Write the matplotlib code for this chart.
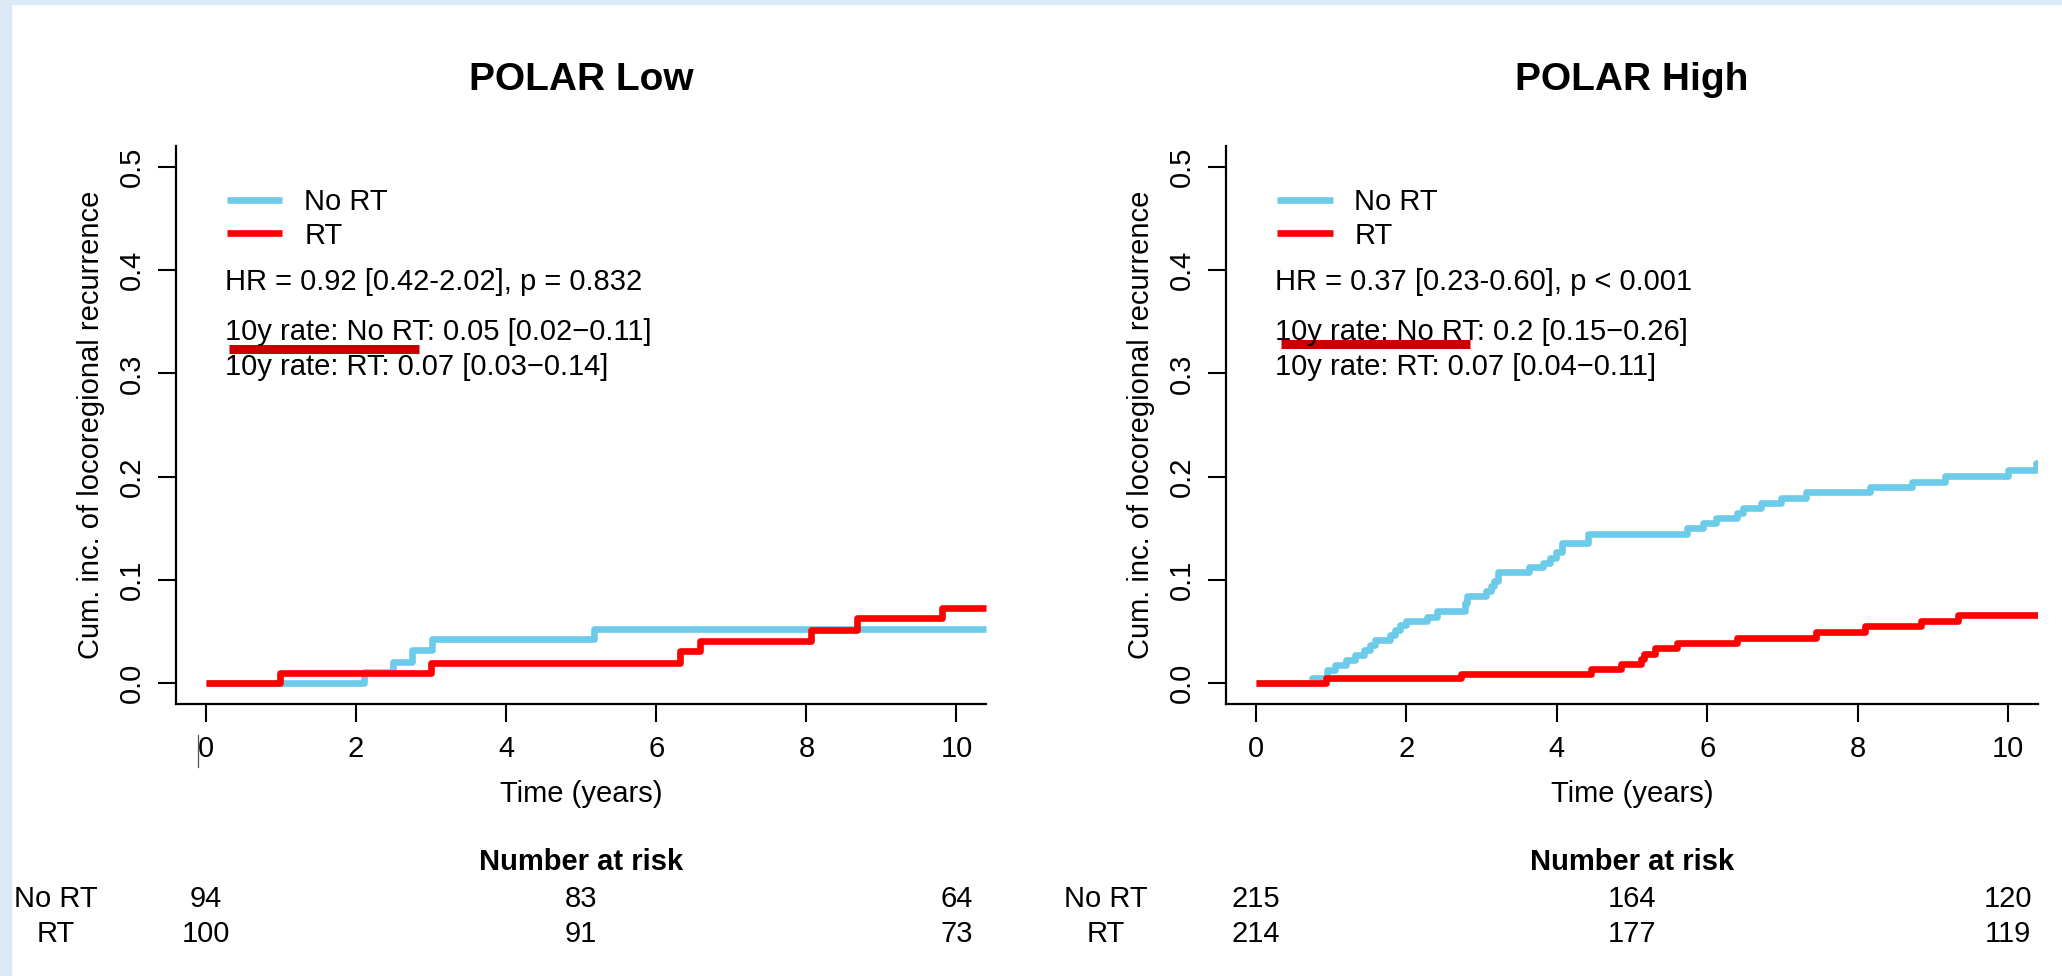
#!/usr/bin/env python

import numpy as np
import matplotlib

matplotlib.use("Agg")
import matplotlib.pyplot as plt
from matplotlib.lines import Line2D
from matplotlib.patches import Rectangle

# --- data -----------------------------------------------------------------

# POLAR Low: step times (years) and cumulative incidence after each step
low_no_rt_t = [0.0, 2.10, 2.49, 2.75, 3.01, 5.17]
low_no_rt_y = [0.0, 0.0106, 0.021, 0.032, 0.043, 0.053]
low_rt_t = [0.0, 0.98, 3.00, 6.32, 6.58, 8.06, 8.67, 9.81]
low_rt_y = [0.0, 0.010, 0.020, 0.031, 0.041, 0.052, 0.063, 0.073]

# POLAR High
high_no_rt_t = [
    0.0, 0.75, 0.94, 1.05, 1.20, 1.32, 1.43, 1.52, 1.58, 1.78, 1.85, 1.91,
    2.00, 2.27, 2.40, 2.78, 2.80, 3.06, 3.12, 3.17, 3.22, 3.63, 3.82, 3.91,
    3.99, 4.07, 4.41, 5.73, 5.95, 6.12, 6.39, 6.47, 6.72, 6.98, 7.32, 8.16,
    8.73, 9.16, 10.00, 10.38,
]
high_no_rt_y = [
    0.0, 0.0047, 0.013, 0.0177, 0.0226, 0.0274, 0.0322, 0.037, 0.042, 0.047,
    0.0516, 0.056, 0.060, 0.0645, 0.070, 0.078, 0.0845, 0.089, 0.094, 0.099,
    0.108, 0.1123, 0.1168, 0.1216, 0.1274, 0.1355, 0.145, 0.1506, 0.1555,
    0.1603, 0.1652, 0.170, 0.1748, 0.1797, 0.1849, 0.1897, 0.1952, 0.2007,
    0.2065, 0.213,
]
high_rt_t = [0.0, 0.93, 2.73, 4.46, 4.86, 5.12, 5.16, 5.31, 5.60, 6.40, 7.45,
             8.10, 8.85, 9.33]
high_rt_y = [0.0, 0.0047, 0.0093, 0.014, 0.019, 0.0235, 0.028, 0.034, 0.039,
             0.044, 0.0495, 0.055, 0.060, 0.066]

follow_up_end = 10.4

titles = ["POLAR Low", "POLAR High"]
hr_texts = [
    "HR = 0.92 [0.42-2.02], p = 0.832",
    "HR = 0.37 [0.23-0.60], p < 0.001",
]
rate_no_rt = [
    "10y rate: No RT: 0.05 [0.02\u22120.11]",
    "10y rate: No RT: 0.2 [0.15\u22120.26]",
]
rate_rt = [
    "10y rate: RT: 0.07 [0.03\u22120.14]",
    "10y rate: RT: 0.07 [0.04\u22120.11]",
]

groups = ["No RT", "RT"]
risk_times = [0, 5, 10]
risk_no_rt = [[94, 83, 64], [215, 164, 120]]
risk_rt = [[100, 91, 73], [214, 177, 119]]

# highlighted span under "10y rate: No RT" (years, cum. inc.)
underline_x = [[0.31, 2.84], [0.33, 2.85]]
underline_y = [0.324, 0.3285]

# --- style ----------------------------------------------------------------

W, H, DPI = 2062, 976, 100
BLUE = "#6dcbea"
RED = "#ff0000"
MARK_RED = "#c80000"
FS = 21

plt.rcParams["font.family"] = ["Liberation Sans", "DejaVu Sans"]


def px_rect(x0, y_top, x1, y_bottom):
    """Figure pixel box (origin top-left) -> axes rect in figure fractions."""
    return [x0 / W, 1 - y_bottom / H, (x1 - x0) / W, (y_bottom - y_top) / H]


def steps(t, y):
    t = np.append(np.asarray(t, dtype=float), follow_up_end)
    y = np.append(np.asarray(y, dtype=float), y[-1])
    return t, y


def draw_panel(ax, i, curves):
    for (t, y), color, label in zip(curves, [BLUE, RED], groups):
        st, sy = steps(t, y)
        ax.step(st, sy, where="post", color=color, lw=4.8, label=label,
                solid_capstyle="butt")

    ax.set_xlim(-0.4, 10.4)
    ax.set_ylim(-0.02, 0.52)
    ax.set_xticks(np.arange(0, 11, 2))
    yt = np.arange(0, 0.51, 0.1)
    ax.set_yticks(yt)
    ax.set_yticklabels([f"{v:.1f}" for v in yt], rotation=90, va="center")
    for side in ("top", "right"):
        ax.spines[side].set_visible(False)
    for side in ("left", "bottom"):
        ax.spines[side].set_linewidth(1.6)
    ax.tick_params(axis="both", length=13, width=1.5, labelsize=FS)
    ax.tick_params(axis="x", pad=9)
    ax.tick_params(axis="y", pad=9)

    ax.set_title(titles[i], fontsize=28, fontweight="bold", pad=40)
    ax.set_xlabel("Time (years)", fontsize=FS)
    ax.xaxis.set_label_coords(0.5, -0.137)
    ax.set_ylabel("Cum. inc. of locoregional recurrence", fontsize=FS)
    ax.yaxis.set_label_coords(-0.088, 0.5)

    ax.legend(loc="upper left", bbox_to_anchor=(0.063, 0.925), frameon=False,
              fontsize=FS, handlelength=1.9, handletextpad=0.75,
              labelspacing=0.2, borderpad=0, borderaxespad=0)

    ax.text(0.25, 0.388, hr_texts[i], fontsize=FS, va="center")
    ax.text(0.25, 0.340, rate_no_rt[i], fontsize=FS, va="center")
    ax.text(0.25, 0.3065, rate_rt[i], fontsize=FS, va="center")
    ax.plot(underline_x[i], [underline_y[i]] * 2, color=MARK_RED, lw=6.5,
            solid_capstyle="butt")

    # number at risk table under the axis
    trans = ax.get_xaxis_transform()
    ax.text(5, -0.284, "Number at risk", transform=trans, ha="center",
            va="center", fontsize=FS, fontweight="bold", clip_on=False)
    for row, (name, counts) in enumerate(zip(groups, [risk_no_rt[i], risk_rt[i]])):
        yy = -0.35 - 0.062 * row
        ax.text(-2, yy, name, transform=trans, ha="center", va="center",
                fontsize=FS, clip_on=False)
        for tt, n in zip(risk_times, counts):
            ax.text(tt, yy, str(n), transform=trans, ha="center", va="center",
                    fontsize=FS, clip_on=False)


def main():
    fig = plt.figure(figsize=(W / DPI, H / DPI), dpi=DPI, facecolor="white")

    # light blue frame on the left and top edges
    fig.patches.append(Rectangle((0, 0), 11 / W, 1, transform=fig.transFigure,
                                 color="#dce9f6", zorder=0))
    fig.patches.append(Rectangle((0, 1 - 4 / H), 1, 4 / H,
                                 transform=fig.transFigure, color="#dce9f6",
                                 zorder=0))

    ax_low = fig.add_axes(px_rect(176, 146, 986.5, 704))
    ax_high = fig.add_axes(px_rect(1226, 146, 2038, 704))

    draw_panel(ax_low, 0, [(low_no_rt_t, low_no_rt_y), (low_rt_t, low_rt_y)])
    draw_panel(ax_high, 1, [(high_no_rt_t, high_no_rt_y),
                            (high_rt_t, high_rt_y)])

    # stray caret left of the first tick label
    fig.add_artist(Line2D([198 / W] * 2, [1 - 735 / H, 1 - 767 / H],
                          color="#555555", lw=0.9))

    fig.savefig("out.png", dpi=DPI)


if __name__ == "__main__":
    main()
